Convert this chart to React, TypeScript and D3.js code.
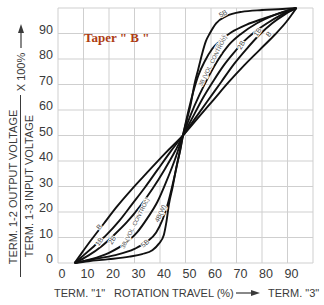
import React from "react";
import * as d3 from "d3";

// taper curves, [rotation travel %, output ratio %]
const curveB: [number, number][] = [
  [6.5, 0], [9, 3.5], [13, 9], [18, 15.5], [23, 22], [29, 29], [35, 35.5], [42, 43], [49, 50],
  [55, 57], [61, 64], [67, 71], [73, 77.5], [79, 83.5], [85, 89.5], [89.5, 94.5], [93.5, 100],
];
const curve1B: [number, number][] = [
  [6.5, 0], [10, 3], [14, 6.5], [19, 11], [24, 16.5], [29, 23], [34, 29.5], [39, 36.5], [44, 43.5], [49, 50],
  [54, 57], [59, 64], [64, 71], [69, 78], [74, 84], [79, 89.5], [84, 94], [89, 97.5], [93.5, 100],
];
const curve2B: [number, number][] = [
  [6.5, 0], [12, 3], [17, 6.5], [22, 11], [27, 16], [32, 22], [37, 29], [42, 37], [46, 44], [49, 50],
  [53, 57.5], [57, 65], [61, 71.5], [65, 77.5], [69, 82.5], [73, 87], [77, 90.5], [82, 94], [87, 97], [93.5, 100],
];
const curve3B: [number, number][] = [
  [6.5, 0], [13, 1.5], [20, 4], [26, 7.5], [31, 12], [35, 17.5], [39, 24], [42.5, 32], [46, 41], [49, 50],
  [52, 58], [55.5, 66], [59, 73], [63, 80], [67, 85.5], [72, 90], [78, 94], [85, 97.3], [93.5, 100],
];
const curve4B: [number, number][] = [
  [6.5, 0], [14, 1.5], [22, 3], [30, 5.5], [35, 8.5], [38.5, 12], [41, 17], [43, 23], [45, 31], [47, 40], [49, 50],
  [51, 59], [53, 67], [55, 73.5], [57.5, 79], [60.5, 84], [64, 87.5], [68, 90.5], [74, 93.5], [81, 96], [88, 98.3], [93.5, 100],
];
const curve5B: [number, number][] = [
  [6.5, 0], [12, 0.7], [20, 1.5], [28, 2.5], [33, 3.5], [37, 5], [39.5, 7.5], [41.5, 11], [42.5, 16], [43.5, 23], [45, 30], [46.5, 38], [48, 44.5], [49, 50],
  [50.5, 56], [52, 62], [53.5, 70], [55, 76], [56.5, 82], [58, 87], [59.5, 90], [62, 94], [66, 96.8], [72, 98.5], [80, 99.2], [88, 99.6], [93.5, 100],
];
const curves = [curveB, curve1B, curve2B, curve3B, curve4B, curve5B];

// curve names placed beside the lines: [text, x, y, angle, size]
const curveLabels: [string, number, number, number, number][] = [
  ["5B", 64.7, 97.8, -28, 7],
  ["4B(W)", 63.6, 86.4, -62, 6.5],
  ["3B (VOL. CONTROL)", 60.6, 79.2, -63, 5.8],
  ["2B", 71.8, 85.5, -60, 7],
  ["1B", 78.2, 90.6, -55, 7],
  ["B", 82.6, 89.8, -50, 7],
  ["B", 16.1, 14.2, -50, 7],
  ["1B", 16.1, 8.4, -55, 7],
  ["2B", 21.2, 9, -60, 7],
  ["3B (VOL. CONTROL)", 30.2, 15.6, -63, 5.8],
  ["4B(W)", 40, 19.5, -65, 6.5],
  ["5B", 34.1, 7.7, -40, 7],
];

const xTicks = [0, 10, 20, 30, 40, 50, 60, 70, 80, 90];
const yTicks = [0, 10, 20, 30, 40, 50, 60, 70, 80, 90];
const gridLines = [0, 10, 20, 30, 40, 50, 60, 70, 80, 90, 100];

const W = 324;
const H = 305;

export default function App() {
  const x = d3.scaleLinear().domain([0, 100]).range([58, 313]);
  const y = d3.scaleLinear().domain([0, 100]).range([263, 8]);
  const line = d3
    .line<[number, number]>()
    .x((d) => x(d[0]))
    .y((d) => y(d[1]))
    .curve(d3.curveMonotoneX);

  const font = "Arial, 'Liberation Sans', sans-serif";

  return (
    <svg
      width={W}
      height={H}
      style={{ position: "absolute", left: 0, top: 0, background: "#fff" }}
    >
      {/* grid */}
      <g stroke="#cfcfcf" strokeWidth={1}>
        {gridLines.map((v) => (
          <line key={"v" + v} x1={x(v)} x2={x(v)} y1={y(0)} y2={y(100)} />
        ))}
        {gridLines.map((v) => (
          <line key={"h" + v} x1={x(0)} x2={x(100)} y1={y(v)} y2={y(v)} />
        ))}
      </g>

      {/* tick labels */}
      <g fill="#3a3a3a" fontFamily={font} fontSize={12.5}>
        {yTicks.map((v) => (
          <text key={v} x={53} y={y(v) - 4} textAnchor="end" dominantBaseline="central">
            {v}
          </text>
        ))}
        {xTicks.map((v) => (
          <text key={v} x={x(v) + 4} y={274} textAnchor="middle" dominantBaseline="central">
            {v}
          </text>
        ))}
      </g>

      {/* curves */}
      <g fill="none" stroke="#111" strokeWidth={1.9}>
        {curves.map((c, i) => (
          <path key={i} d={line(c) || ""} />
        ))}
      </g>

      {/* curve names */}
      <g fill="#4a4a4a" fontFamily={font} stroke="#fff" strokeWidth={1.8} style={{ paintOrder: "stroke" }}>
        {curveLabels.map(([t, lx, ly, a, s], i) => (
          <text
            key={i}
            fontSize={s}
            transform={`translate(${x(lx)},${y(ly)}) rotate(${a})`}
            textAnchor="middle"
            dominantBaseline="central"
          >
            {t}
          </text>
        ))}
      </g>

      {/* title */}
      <text x={84} y={42} fill="#ad3c12" fontFamily="'Liberation Serif', 'Times New Roman', serif" fontWeight="bold" fontSize={13}>
        Taper " B "
      </text>

      {/* x axis title */}
      <g fill="#3a3a3a" fontFamily={font} fontSize={11}>
        <text x={54} y={293} dominantBaseline="central">TERM. "1"</text>
        <text x={114} y={293} dominantBaseline="central">ROTATION TRAVEL (%)</text>
        <line x1={236} x2={252} y1={293} y2={293} stroke="#3a3a3a" strokeWidth={1.2} />
        <path d="M251,290 L260,293 L251,296 Z" />
        <text x={268} y={293} dominantBaseline="central">TERM. "3"</text>
      </g>

      {/* y axis title */}
      <g fill="#3a3a3a" fontFamily={font} fontSize={11}>
        <text transform="translate(13,187) rotate(-90)" textAnchor="middle" dominantBaseline="central">
          TERM. 1-2 OUTPUT VOLTAGE
        </text>
        <line x1={20.5} x2={20.5} y1={95} y2={277} stroke="#3a3a3a" strokeWidth={1} />
        <text transform="translate(29,186) rotate(-90)" textAnchor="middle" dominantBaseline="central">
          TERM. 1-3 INPUT VOLTAGE
        </text>
        <text transform="translate(21,72) rotate(-90)" textAnchor="middle" dominantBaseline="central">
          X 100%
        </text>
        <line x1={21} x2={21} y1={48} y2={32} stroke="#3a3a3a" strokeWidth={1.2} />
        <path d="M18,33 L21,24 L24,33 Z" />
      </g>
    </svg>
  );
}
